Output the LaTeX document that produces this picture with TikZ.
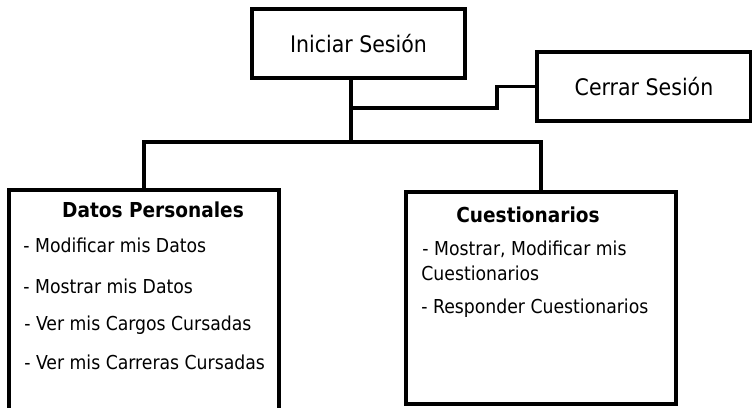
\documentclass[tikz,border=0pt]{standalone}
\usepackage{fontspec}
\setmainfont{DejaVu Sans Condensed}
\usepackage{tikz}

\tikzset{
    caja/.style={draw, line width=1.6pt, minimum width=#1, inner sep=0pt},
    item/.style={anchor=base west, inner sep=0pt, font=\fontsize{9.6}{11}\selectfont},
    titulo/.style={anchor=base, inner sep=0pt, font=\fontsize{10.3}{12}\selectfont\bfseries},
    linea/.style={line width=1.6pt}
}

\begin{document}
\begin{tikzpicture}[x=0.5pt,y=-0.5pt]
        \useasboundingbox (0,0) rectangle (752,408);

        % cajas
        \node[caja=106.5pt, minimum height=34.5pt, font=\fontsize{11.4}{13}\selectfont]
            (inicio) at (358.5,43.5) {Iniciar Sesión\hspace{4pt}};
        \node[caja=107pt, minimum height=34.5pt, font=\fontsize{11.4}{13}\selectfont]
            (cerrar) at (644,86.5) {Cerrar Sesión\hspace{3pt}};
        \node[caja=135pt, minimum height=112.5pt] (datos) at (144,302.5) {};
        \node[caja=135pt, minimum height=106pt] (cuest) at (541,298) {};

        % uniones
        \coordinate (j1) at (351,108);
        \coordinate (j2) at (351,142);
        \draw[linea] (inicio.south -| j1) -- (j2);
        \draw[linea] (j1) -- ++(146,0) |- (cerrar.west);
        \draw[linea] (datos.north) |- (j2) -| (cuest.north);

        % Datos Personales
        \node[titulo] (t1) at (153,217) {Datos Personales};
        \node[item] (d1) at (23,252) {- Modificar mis Datos};
        \node[item] (d2) at (23,293) {- Mostrar mis Datos};
        \node[item] (d3) at (24,330) {- Ver mis Cargos Cursadas};
        \node[item] (d4) at (24,369) {- Ver mis Carreras Cursadas};

        % Cuestionarios
        \node[titulo] (t2) at (528,222) {Cuestionarios};
        \node[item] (c1) at (422,255) {- Mostrar, Modificar mis};
        \node[item] (c2) at (421,280) {Cuestionarios};
        \node[item] (c3) at (421,313) {- Responder Cuestionarios};
    \end{tikzpicture}
\end{document}
